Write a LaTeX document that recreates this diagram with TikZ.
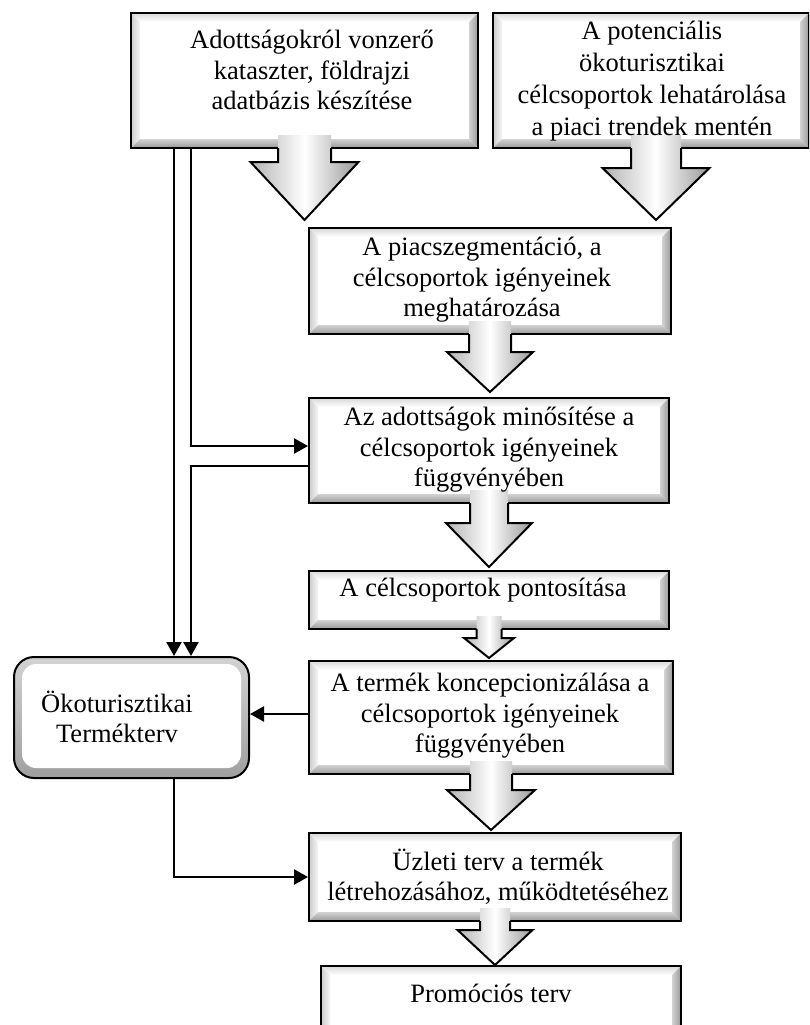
\documentclass[tikz,border=0pt]{standalone}
\usepackage{fontspec}
\setmainfont{Liberation Serif}
\usetikzlibrary{calc,arrows.meta}
\newcommand\bw{9pt}
\newcommand\bevelfill{%
  \coordinate (NW) at (path picture bounding box.north west);
  \coordinate (NE) at (path picture bounding box.north east);
  \coordinate (SW) at (path picture bounding box.south west);
  \coordinate (SE) at (path picture bounding box.south east);
  \coordinate (nw) at ($(NW)+(\bw,-\bw)$);
  \coordinate (ne) at ($(NE)+(-\bw,-\bw)$);
  \coordinate (sw) at ($(SW)+(\bw,\bw)$);
  \coordinate (se) at ($(SE)+(-\bw,\bw)$);
  \shade[top color=gray!30, bottom color=white] (NW)--(NE)--(ne)--(nw)--cycle;
  \shade[left color=gray!40, right color=gray!8] (NW)--(nw)--(sw)--(SW)--cycle;
  \shade[left color=gray!35, right color=gray!80] (NE)--(SE)--(se)--(ne)--cycle;
  \shade[top color=gray!35, bottom color=gray!80] (SW)--(sw)--(se)--(SE)--cycle;
  \fill[white] (nw) rectangle (se);
}
\tikzset{
  bevel/.style={draw=black, line width=2pt, inner sep=0pt, anchor=north west,
    path picture={\bevelfill}},
  roundbevel/.style={draw=black, line width=2pt, inner sep=0pt, anchor=north west,
    rounded corners=20pt,
    path picture={
      \shade[top color=gray!35, bottom color=gray!75]
        (path picture bounding box.south west) rectangle (path picture bounding box.north east);
      \fill[white, rounded corners=14pt]
        ($(path picture bounding box.south west)+(8pt,10pt)$) rectangle
        ($(path picture bounding box.north east)+(-8pt,-7pt)$);
    }},
  txt/.style={align=center, inner sep=0pt, font=\fontsize{26.5}{30.5}\selectfont},
  conn/.style={line width=2.5pt, -{Triangle[length=14pt,width=15pt]}},
}
% block arrow: from, to, shaft half width, head half width, head length, gap, x shift
\newcommand\blockarrow[7]{%
  \path let \p1=($(#1.south)+(#7,0pt)$), \p2=(#2.north) in
    [shade, left color=gray!60, right color=gray!80, middle color=white]
    (\x1-#3,\y1+14pt) -- (\x1-#3,\y2+#6+#5) -- (\x1-#4,\y2+#6+#5) -- (\x1,\y2+#6)
    -- (\x1+#4,\y2+#6+#5) -- (\x1+#3,\y2+#6+#5) -- (\x1+#3,\y1+14pt) -- cycle;
  \draw[line width=2pt, line join=miter] let \p1=($(#1.south)+(#7,0pt)$), \p2=(#2.north) in
    (\x1-#3,\y1+1pt) -- (\x1-#3,\y2+#6+#5) -- (\x1-#4,\y2+#6+#5) -- (\x1,\y2+#6)
    -- (\x1+#4,\y2+#6+#5) -- (\x1+#3,\y2+#6+#5) -- (\x1+#3,\y1+1pt);
}
\begin{document}
\begin{tikzpicture}[x=1pt,y=-1pt]
\useasboundingbox (0,0) rectangle (809,1025);
\clip (0,0) rectangle (809,1025);
\fill[white] (0,0) rectangle (809,1025);

% boxes
\node[bevel, minimum width=347pt, minimum height=135pt] (b1) at (130,12) {};
\node[bevel, minimum width=316pt, minimum height=135pt] (b2) at (492,12) {};
\node[bevel, minimum width=362pt, minimum height=106pt] (b3) at (308,227) {};
\node[bevel, minimum width=360pt, minimum height=105pt] (b4) at (308,397) {};
\node[bevel, minimum width=360pt, minimum height=58pt] (b5) at (308,570) {};
\node[bevel, minimum width=364pt, minimum height=113pt] (b6) at (308,660) {};
\node[bevel, minimum width=372pt, minimum height=88pt] (b7) at (308,832) {};
\node[bevel, minimum width=360pt, minimum height=75pt] (b8) at (320,965) {};
\node[roundbevel, minimum width=235pt, minimum height=121pt] (oko) at (13,656) {};

% block arrows
\blockarrow{b1}{b3}{26.5pt}{54pt}{58pt}{7pt}{0pt}
\blockarrow{b2}{b3}{25pt}{53.5pt}{52pt}{7pt}{5pt}
\blockarrow{b3}{b4}{21pt}{43pt}{40pt}{5pt}{0pt}
\blockarrow{b4}{b5}{19pt}{43pt}{44pt}{3pt}{0pt}
\blockarrow{b5}{b6}{12.5pt}{25pt}{20pt}{2pt}{0pt}
\blockarrow{b6}{b7}{21pt}{44pt}{40pt}{2pt}{0pt}
\blockarrow{b7}{b8}{15pt}{37.5pt}{35pt}{0pt}{0pt}

% texts
\node[txt] (t1) at (312,70) {Adottságokról vonzerő\\kataszter, földrajzi\\adatbázis készítése};
\node[txt, font=\fontsize{26.5}{32}\selectfont] (t2) at (652,81) {A potenciális\\ökoturisztikai\\célcsoportok lehatárolása\\a piaci trendek mentén};
\node[txt] (t3) at (482,280) {A piacszegmentáció, a\\célcsoportok igényeinek\\meghatározása};
\node[txt] (t4) at (489,450) {Az adottságok minősítése a\\célcsoportok igényeinek\\függvényében};
\node[txt] (t5) at (483,590) {A célcsoportok pontosítása};
\node[txt] (t6) at (490,716) {A termék koncepcionizálása a\\célcsoportok igényeinek\\függvényében};
\node[txt] (t7) at (498,877) {Üzleti terv a termék\\létrehozásához, működtetéséhez};
\node[txt] (t8) at (491,993) {Promóciós terv};
\node[txt] (t9) at (117,717) {Ökoturisztikai\\Termékterv};

% connectors
\draw[conn] ($(b1.south west)+(44pt,0pt)$) coordinate (p1) -- (p1 |- oko.north);
\draw[conn] ($(b1.south west)+(61pt,0pt)$) |- ($(b4.west)+(0pt,4.5pt)$);
\draw[conn] ($(b4.west)+(0pt,-15.5pt)$) -| ($(oko.north west)+(178pt,0pt)$);
\draw[conn] ($(b6.west)+(0pt,3.5pt)$) -- ($(oko.east)+(0pt,3.5pt)$);
\draw[conn] ($(oko.south west)+(161pt,0pt)$) |- (b7.west);
\end{tikzpicture}
\end{document}
